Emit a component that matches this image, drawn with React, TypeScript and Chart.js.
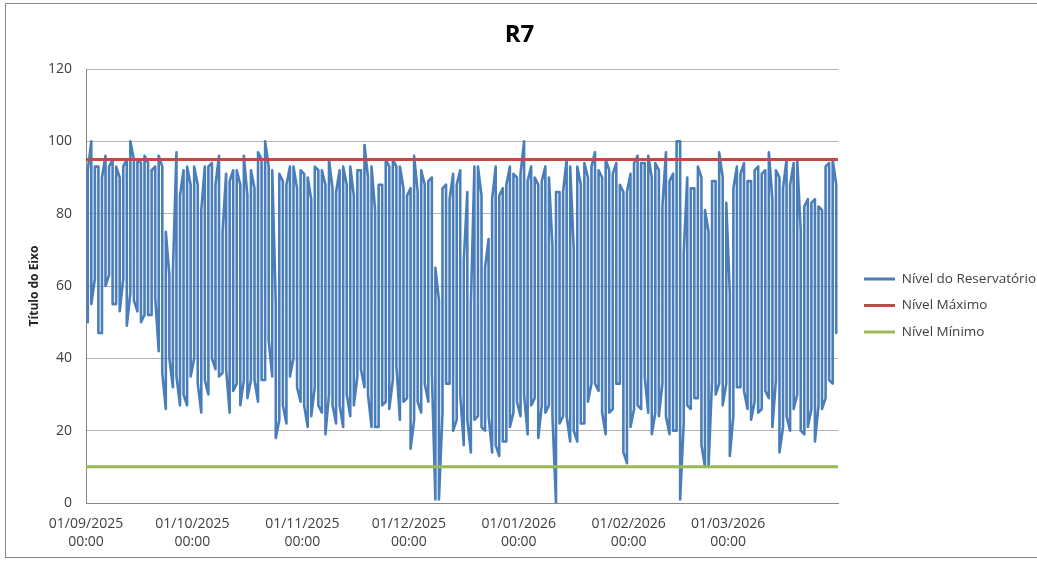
import React, { useEffect, useRef } from "react";
import { Chart, registerables } from "chart.js";

Chart.register(...registerables);

const TITLE = "R7";
const Y_TITLE = "Título do Eixo";
const SERIES_NAMES = ["Nível do Reservatório", "Nível Máximo", "Nível Mínimo"];
const SERIES_COLORS = ["#4a7ebb", "#be4b48", "#98b954"];

// x axis: days since 01/09/2025 00:00
const TICK_DAYS = [0, 30, 61, 91, 122, 153, 181];
const TICK_DATES = ["01/09/2025", "01/10/2025", "01/11/2025", "01/12/2025", "01/01/2026", "01/02/2026", "01/03/2026"];
const TICK_TIME = "00:00";
const X_MAX_DAYS = 212;

const Y_MIN = 0;
const Y_MAX = 120;
const Y_STEP = 20;

const MAX_LEVEL = 95;
const MIN_LEVEL = 10;

// Daily highest reading of the reservoir level (one per day from 01/09/2025)
const DAILY_PEAKS = [
  92, 100, 93, 93, 90, 96, 93, 95, 93, 90, 93, 95, 100, 95, 95, 94, 96, 94, 92, 93, 96, 93, 75, 63, 64, 97, 85, 92,
  93, 88, 93, 88, 81, 93, 93, 94, 88, 96, 75, 91, 89, 92, 92, 88, 96, 85, 92, 87, 97, 95, 100, 93, 92, 55, 91, 89, 88, 93,
  93, 87, 92, 91, 90, 84, 93, 92, 92, 88, 95, 87, 86, 92, 93, 88, 93, 85, 92, 92, 99, 90, 93, 81, 88, 88, 95, 93, 95, 93,
  93, 87, 85, 87, 96, 86, 92, 88, 89, 90, 65, 56, 87, 88, 84, 91, 88, 92, 67, 86, 55, 93, 93, 85, 65, 73, 84, 93, 85, 87,
  88, 93, 91, 90, 91, 100, 89, 93, 90, 88, 89, 93, 90, 71, 86, 86, 86, 95, 93, 70, 93, 88, 94, 90, 93, 97, 92, 90, 95, 92,
  91, 94, 88, 86, 86, 91, 94, 96, 94, 94, 96, 90, 94, 92, 82, 97, 89, 91, 100, 100, 69, 90, 87, 87, 93, 90, 81, 75, 89, 89,
  97, 90, 83, 58, 87, 93, 91, 94, 89, 89, 92, 93, 91, 92, 97, 84, 92, 90, 87, 95, 88, 94, 95, 75, 82, 84, 83, 84, 82, 81, 93, 94, 95, 88,
];

// Daily lowest reading of the reservoir level
const DAILY_TROUGHS = [
  50, 55, 62, 47, 47, 60, 63, 55, 55, 53, 62, 49, 58, 56, 53, 50, 52, 52, 52, 57, 42, 36, 26, 40, 32, 35, 27, 30,
  27, 35, 40, 33, 25, 34, 30, 40, 37, 35, 36, 37, 25, 31, 33, 27, 34, 29, 34, 34, 28, 34, 34, 45, 35, 18, 23, 27, 22, 35,
  40, 32, 28, 27, 21, 24, 32, 27, 25, 19, 30, 27, 22, 27, 21, 30, 24, 27, 35, 37, 32, 30, 21, 21, 21, 27, 28, 26, 34, 38,
  23, 28, 29, 15, 23, 28, 25, 33, 28, 36, 1, 1, 25, 33, 33, 20, 23, 30, 16, 23, 14, 23, 24, 21, 20, 24, 14, 16, 13, 17,
  17, 21, 25, 28, 24, 30, 19, 27, 29, 18, 27, 25, 27, 24, 0, 22, 24, 24, 17, 20, 17, 22, 22, 28, 33, 33, 31, 25, 19, 25,
  26, 33, 33, 14, 11, 21, 26, 27, 26, 35, 25, 19, 25, 24, 33, 24, 19, 20, 20, 1, 22, 27, 26, 29, 29, 16, 10, 10, 34, 30,
  33, 27, 33, 13, 24, 32, 32, 31, 26, 23, 28, 25, 26, 31, 29, 21, 34, 14, 21, 24, 20, 26, 30, 20, 19, 21, 26, 17, 27, 26, 29, 34, 33, 47,
];

const FONT = "'Open Sans', 'Noto Sans', sans-serif";
const CANVAS_W = 1031;
const CANVAS_H = 553;
const PLOT_RIGHT = 832;
const LEGEND_FONT_SIZE = 13.5;
const LEGEND_PAD = 13;
const LEGEND_BOX_W = 31;
const LEGEND_X = 858;
const LEGEND_FIRST_Y = 275;

const legendPlacer = {
  id: "legendPlacer",
  afterLayout(chart: any) {
    const lg = chart.legend;
    if (!lg || !lg.columnSizes || !lg.columnSizes.length) return;
    const pad = lg.options.labels.padding;
    const dx = LEGEND_X - (lg.left + pad);
    lg.left += dx;
    lg.right += dx;
    const colH = lg.columnSizes[0].height;
    const y0 = (lg.top + pad + lg.bottom - colH) / 2;
    const itemH = lg._itemHeight || LEGEND_FONT_SIZE;
    const dy = LEGEND_FIRST_Y - (y0 + itemH / 2);
    lg.top += dy;
    lg.bottom += dy;
  },
};

export default function App() {
  const canvasRef = useRef<HTMLCanvasElement | null>(null);

  useEffect(() => {
    const canvas = canvasRef.current;
    if (!canvas) return;
    document.body.style.margin = "0";
    document.body.style.overflow = "hidden";

    const ctx2d = canvas.getContext("2d")!;
    ctx2d.font = `${LEGEND_FONT_SIZE}px ${FONT}`;
    const textW = Math.max(...SERIES_NAMES.map((n) => ctx2d.measureText(n).width));
    const legendW = LEGEND_PAD + LEGEND_BOX_W + LEGEND_FONT_SIZE / 2 + textW + 10;
    const padRight = Math.max(0, CANVAS_W - PLOT_RIGHT - legendW);

    // each day: the level swings between its low and its high; consecutive days
    // alternate direction so the trace forms a dense band of near-vertical strokes
    const levelPoints: { x: number; y: number }[] = [];
    for (let d = 0; d < DAILY_PEAKS.length; d++) {
      const lo = { x: d + 0.5, y: DAILY_TROUGHS[d] };
      const hi = { x: d + 0.5, y: DAILY_PEAKS[d] };
      if (d % 2 === 0) levelPoints.push(lo, hi);
      else levelPoints.push(hi, lo);
    }
    const maxPoints = [
      { x: 0, y: MAX_LEVEL },
      { x: X_MAX_DAYS, y: MAX_LEVEL },
    ];
    const minPoints = [
      { x: 0, y: MIN_LEVEL },
      { x: X_MAX_DAYS, y: MIN_LEVEL },
    ];

    Chart.defaults.font.family = FONT;

    const chart = new Chart(canvas, {
      type: "line",
      data: {
        datasets: [
          {
            label: SERIES_NAMES[0],
            data: levelPoints,
            borderColor: SERIES_COLORS[0],
            backgroundColor: SERIES_COLORS[0],
            borderWidth: 2.6,
            pointRadius: 0,
            tension: 0,
            borderJoinStyle: "round",
            borderCapStyle: "round",
            order: 3,
          },
          {
            label: SERIES_NAMES[1],
            data: maxPoints,
            borderColor: SERIES_COLORS[1],
            backgroundColor: SERIES_COLORS[1],
            borderWidth: 3,
            pointRadius: 0,
            order: 1,
          },
          {
            label: SERIES_NAMES[2],
            data: minPoints,
            borderColor: SERIES_COLORS[2],
            backgroundColor: SERIES_COLORS[2],
            borderWidth: 3,
            pointRadius: 0,
            order: 2,
          },
        ],
      },
      options: {
        responsive: false,
        animation: false,
        events: [],
        devicePixelRatio: 1,
        layout: { padding: { left: 0, top: 0, bottom: 0, right: padRight } },
        plugins: {
          title: {
            display: true,
            text: TITLE,
            color: "#000000",
            font: { size: 24, weight: "bold", family: FONT, lineHeight: 1.2 },
            padding: { top: 16.6, bottom: 19.6 },
          },
          legend: {
            display: true,
            position: "right",
            labels: {
              boxWidth: LEGEND_BOX_W,
              boxHeight: 3,
              padding: LEGEND_PAD,
              color: "#404040",
              font: { size: LEGEND_FONT_SIZE, family: FONT },
              sort: (a: any, b: any) => a.datasetIndex - b.datasetIndex,
              generateLabels: (chart: any) =>
                Chart.defaults.plugins.legend.labels.generateLabels(chart).map((it: any) => ({
                  ...it,
                  lineWidth: 0,
                  strokeStyle: it.fillStyle,
                })),
            },
          },
          tooltip: { enabled: false },
        },
        scales: {
          x: {
            type: "linear",
            min: 0,
            max: X_MAX_DAYS,
            afterBuildTicks: (scale: any) => {
              scale.ticks = TICK_DAYS.map((v) => ({ value: v }));
            },
            afterFit: (scale: any) => {
              scale.height = 54;
            },
            grid: { display: false, drawTicks: false },
            border: { display: true, color: "#868686", width: 1 },
            ticks: {
              autoSkip: false,
              maxRotation: 0,
              minRotation: 0,
              padding: 12,
              color: "#404040",
              font: { size: 14, family: FONT, lineHeight: 1.3 },
              callback: (value: any) => {
                const i = TICK_DAYS.indexOf(Number(value));
                return i >= 0 ? [TICK_DATES[i], TICK_TIME] : "";
              },
            },
          },
          y: {
            min: Y_MIN,
            max: Y_MAX,
            afterFit: (scale: any) => {
              scale.width = 80;
            },
            grid: { color: "#b4b4b4", lineWidth: 1, drawTicks: false },
            border: { display: true, color: "#868686", width: 1 },
            ticks: {
              stepSize: Y_STEP,
              padding: 14,
              color: "#404040",
              font: { size: 14, family: FONT },
            },
            title: {
              display: true,
              text: Y_TITLE,
              color: "#262626",
              font: { size: 12, weight: "bold", family: FONT, lineHeight: 1.2 },
              padding: { top: 21.8, bottom: 0 },
            },
          },
        },
      },
      plugins: [legendPlacer],
    });

    return () => {
      chart.destroy();
    };
  }, []);

  return (
    <div
      style={{
        position: "absolute",
        left: 5,
        top: 3,
        width: CANVAS_W,
        height: CANVAS_H,
        borderLeft: "1px solid #8a8a8a",
        borderTop: "1px solid #8a8a8a",
        borderBottom: "1px solid #8a8a8a",
        background: "#ffffff",
      }}
    >
      <canvas
        ref={canvasRef}
        width={CANVAS_W}
        height={CANVAS_H}
        style={{ display: "block", width: CANVAS_W, height: CANVAS_H }}
      />
    </div>
  );
}
